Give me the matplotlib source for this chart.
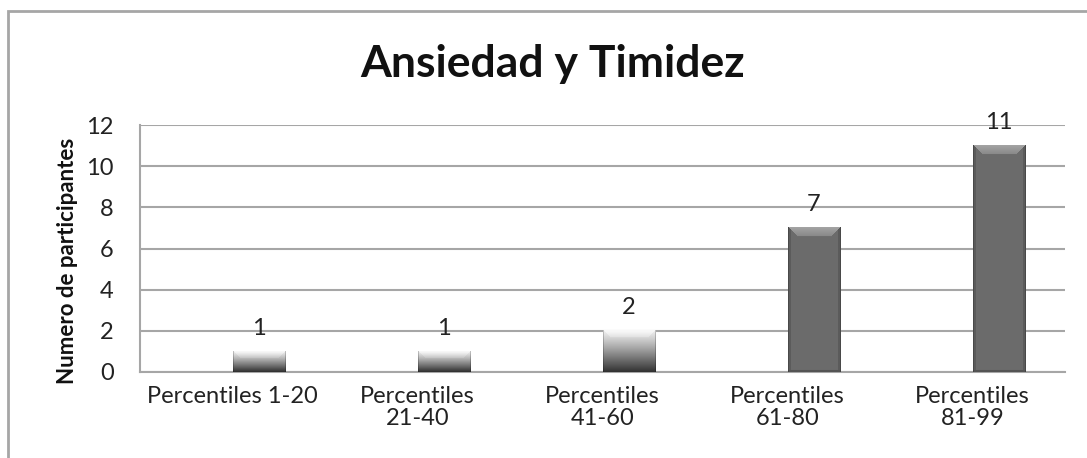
import numpy as np
import matplotlib.pyplot as plt
from matplotlib.patches import Rectangle

# Data
categories = ['Percentiles 1-20', 'Percentiles\n21-40', 'Percentiles\n41-60',
              'Percentiles\n61-80', 'Percentiles\n81-99']
values = [1, 1, 2, 7, 11]
yticks = [0, 2, 4, 6, 8, 10, 12]

plt.rcParams['font.family'] = ['Lato', 'DejaVu Sans']

W, H = 1087, 458
fig = plt.figure(figsize=(W / 100, H / 100), dpi=100)
ax = fig.add_axes([140 / W, (H - 372) / H, 925 / W, 247 / H])

# outer chart border (cut at right and bottom)
fig.patches.append(Rectangle((8 / W, -0.05), 1.2, (H - 11) / H + 0.05,
                             transform=fig.transFigure, fill=False,
                             edgecolor='#a6a6a6', lw=2))

ax.set_xlim(-0.5, 4.5)
ax.set_ylim(0, 12)
ax.set_yticks(yticks)
ax.set_xticks(range(len(categories)))
ax.set_xticklabels(categories, fontsize=17, color='#222222', linespacing=1.05)
ax.tick_params(axis='y', labelsize=17, colors='#222222', length=0, pad=19)
ax.tick_params(axis='x', length=0, pad=10)
ax.grid(axis='y', color='#a6a6a6', lw=1.5, zorder=0)
ax.set_axisbelow(True)
for s in ['top', 'right']:
    ax.spines[s].set_visible(False)
for s in ['left', 'bottom']:
    ax.spines[s].set_color('#a6a6a6')
    ax.spines[s].set_linewidth(1.5)

px_per_unit = 247 / 12
bw = 53 / 185


def bar_image(v):
    # bevelled grey bar drawn pixel by pixel
    h = max(int(round(v * px_per_unit)), 2)
    w = 53
    d = np.arange(h)[:, None] * np.ones((1, w))
    col = np.arange(w)[None, :] * np.ones((h, 1))
    if h < 50:
        t = d / (h - 1)
        img = 0.94 - 0.74 * t ** 1.1
        bev = (d < 7) & (col > d) & (col < w - 1 - d)
        img = np.where(bev, np.minimum(img + 0.04, 0.97), img)
    else:
        img = np.full((h, w), 0.42)
        bev = (d < 9) & (col > d) & (col < w - 1 - d)
        img = np.where(bev, 0.53 + 0.012 * (9 - d), img)
        side = (col < 3) | (col > w - 4)
        img = np.where(side & ~bev, 0.36, img)
        img[-2:, :] = 0.33
    img[:, 0] = img[:, 0] * 0.8
    img[:, -1] = img[:, -1] * 0.8
    return np.dstack([img, img, img])


for i, v in enumerate(values):
    ax.imshow(bar_image(v), extent=[i, i + bw, 0, v], aspect='auto',
              interpolation='bilinear', zorder=3)
    ax.annotate(str(v), (i + bw / 2, v), xytext=(0, 9), textcoords='offset points',
                ha='center', va='bottom', fontsize=17, color='#222222')

ax.set_xlim(-0.5, 4.5)
ax.set_ylim(0, 12)

fig.text(68 / W, 1 - 261 / H, 'Numero de participantes', rotation=90,
         ha='center', va='center', fontsize=16, fontweight='bold', color='#111111')
fig.text(553 / W, 1 - 77 / H, 'Ansiedad y Timidez', ha='center', va='baseline',
         fontsize=32, fontweight='bold', color='#111111')

fig.savefig('out.png', dpi=100)
